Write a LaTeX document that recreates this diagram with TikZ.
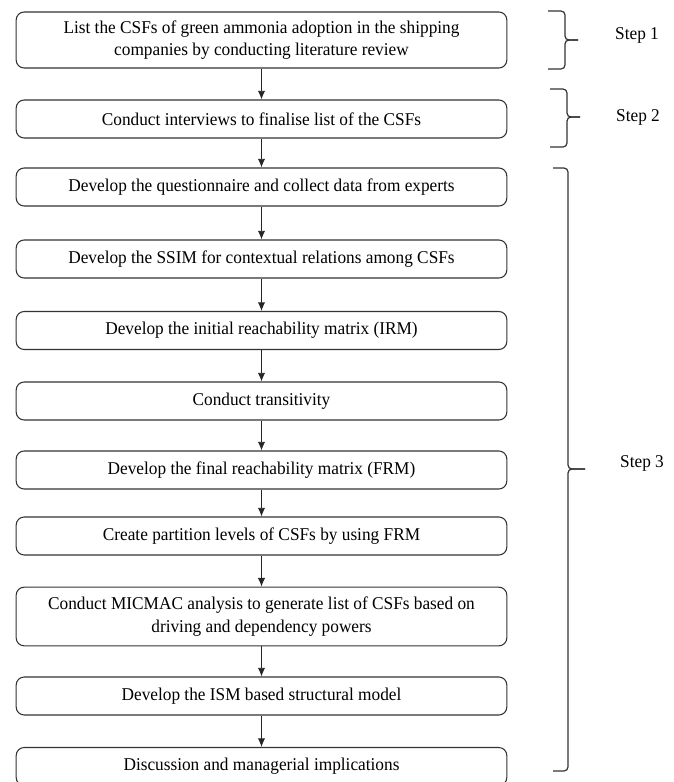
\documentclass[tikz,border=0pt]{standalone}
\usepackage{fontspec}
\setmainfont{Liberation Serif}[FakeStretch=0.96]
\usetikzlibrary{arrows.meta}

\tikzset{
  process/.style={draw=black!80, line width=0.8pt, rounded corners=6pt,
    minimum width=368pt, minimum height=28.5pt, align=center, inner sep=2pt,
    font=\fontsize{13.5pt}{16.8pt}\selectfont},
  flow/.style={draw=black!85, line width=0.7pt, -{Latex[length=6.5pt,width=5.5pt]}},
  bracket/.style={draw=black!80, line width=0.9pt, rounded corners=3pt},
  steplabel/.style={font=\fontsize{13.5pt}{16pt}\selectfont}
}

\begin{document}
\begin{tikzpicture}[x=0.75pt,y=-0.75pt]
\useasboundingbox (0,0) rectangle (674,782);

% boxes
\node[process,minimum height=42pt] (list) at (261.5,40)
  {List the CSFs of green ammonia adoption in the shipping\\
   companies by conducting literature review};
\node[process] (interview) at (261.5,119)
  {Conduct interviews to finalise list of the CSFs};
\node[process] (questionnaire) at (261.5,187)
  {Develop the questionnaire and collect data from experts};
\node[process] (ssim) at (261.5,259)
  {Develop the SSIM for contextual relations among CSFs};
\node[process] (irm) at (261.5,330.5)
  {Develop the initial reachability matrix (IRM)};
\node[process] (transitivity) at (261.5,401)
  {Conduct transitivity};
\node[process] (frm) at (261.5,470)
  {Develop the final reachability matrix (FRM)};
\node[process] (partition) at (261.5,536)
  {Create partition levels of CSFs by using FRM};
\node[process,minimum height=44pt] (micmac) at (261.5,616.5)
  {Conduct MICMAC analysis to generate list of CSFs based on\\
   driving and dependency powers};
\node[process] (ism) at (261.5,696)
  {Develop the ISM based structural model};
\node[process] (discussion) at (261.5,766.5)
  {Discussion and managerial implications};

% arrows
\draw[flow] (list) -- (interview);
\draw[flow] (interview) -- (questionnaire);
\draw[flow] (questionnaire) -- (ssim);
\draw[flow] (ssim) -- (irm);
\draw[flow] (irm) -- (transitivity);
\draw[flow] (transitivity) -- (frm);
\draw[flow] (frm) -- (partition);
\draw[flow] (partition) -- (micmac);
\draw[flow] (micmac) -- (ism);
\draw[flow] (ism) -- (discussion);

% braces and steps
\draw[bracket] (548,11) -| (565,40) -- (578,40);
\draw[bracket] (578,40) -- (565,40) |- (548,69);
\node[steplabel] (step1) at (637,35) {Step 1};

\draw[bracket] (550,89) -| (567,117) -- (580,117);
\draw[bracket] (580,117) -- (567,117) |- (550,147);
\node[steplabel] (step2) at (638,117) {Step 2};

\draw[bracket] (553,168) -| (568,469) -- (585,469);
\draw[bracket] (585,469) -- (568,469) |- (553,771);
\node[steplabel] (step3) at (642,463) {Step 3};
\end{tikzpicture}
\end{document}
